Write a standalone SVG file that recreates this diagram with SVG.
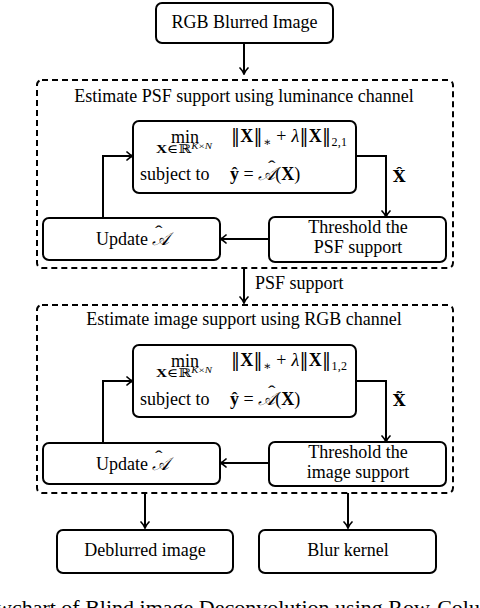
<svg xmlns="http://www.w3.org/2000/svg" width="480" height="608" viewBox="0 0 480 608">
<style>
text{font-family:"Liberation Serif","DejaVu Serif",serif;font-size:18px;fill:#000}
text.f12{font-size:12px}
text.f16{font-size:16px}
text.f22{font-size:22px}
tspan.f8{font-size:8.5px}
tspan.sub{font-size:12px}
.dv{font-family:"DejaVu Serif",serif}
.box{fill:#fff;stroke:#000;stroke-width:2}
.dash{fill:none;stroke:#000;stroke-width:2;stroke-dasharray:6 4}
.c{text-anchor:middle}
.ln{fill:none;stroke:#000;stroke-width:2}
.b{font-weight:bold}
.i{font-style:italic}
.scr{font-family:"DejaVu Serif","Noto Sans",serif;font-style:italic}
</style>
<defs>
<marker id="ah" viewBox="0 0 10 10" refX="9" refY="5" markerWidth="10" markerHeight="10" markerUnits="userSpaceOnUse" orient="auto">
<path d="M3,1 Q6,4 9,5 Q6,6 3,9" fill="none" stroke="#000" stroke-width="1.7" stroke-linecap="round"/>
</marker>
</defs>
<rect width="480" height="608" fill="#fff"/>

<g id="connectors">
<line class="ln" x1="244" y1="43" x2="244" y2="74" marker-end="url(#ah)"/>
<polyline class="ln" points="103,218 103,156 133,156" marker-end="url(#ah)"/>
<polyline class="ln" points="356,156 386,156 386,217" marker-end="url(#ah)"/>
<line class="ln" x1="269" y1="239" x2="220" y2="239" marker-end="url(#ah)"/>
<line class="ln" x1="244" y1="268" x2="244" y2="303" marker-end="url(#ah)"/>
<polyline class="ln" points="103,443 103,381 133,381" marker-end="url(#ah)"/>
<polyline class="ln" points="356,381 386,381 386,442" marker-end="url(#ah)"/>
<line class="ln" x1="269" y1="463" x2="220" y2="463" marker-end="url(#ah)"/>
<line class="ln" x1="145" y1="493" x2="145" y2="528" marker-end="url(#ah)"/>
<line class="ln" x1="348" y1="493" x2="348" y2="528" marker-end="url(#ah)"/>
<text x="255" y="289">PSF support</text>
<text class="b dv f16" x="393" y="182">X̂</text>
<text class="b dv f16" x="393" y="406">X̃</text>
</g>

<g id="rgb-blurred-image">
<rect class="box" x="156" y="3" width="177" height="40" rx="6"/>
<text class="c" x="244.5" y="28">RGB Blurred Image</text>
</g>

<g id="stage-psf">
<rect class="dash" x="37" y="80" width="416" height="188" rx="5"/>
<text class="c" x="244" y="102">Estimate PSF support using luminance channel</text>
</g>

<g id="opt-psf">
<rect class="box" x="133" y="121" width="223" height="72" rx="6"/>
<text class="c" x="185" y="143">min</text>
<text class="f12" x="156" y="153" textLength="56" lengthAdjust="spacingAndGlyphs"><tspan class="b">X</tspan>∈ℝ<tspan class="f8 i" dy="-4">K</tspan><tspan class="f8">×</tspan><tspan class="f8 i">N</tspan></text>
<text x="231" y="142" textLength="116" lengthAdjust="spacing"><tspan class="dv">‖</tspan><tspan class="b">X</tspan><tspan class="dv">‖</tspan><tspan class="sub" dy="4">∗</tspan><tspan dy="-4"> + </tspan><tspan class="i">λ</tspan><tspan class="dv">‖</tspan><tspan class="b">X</tspan><tspan class="dv">‖</tspan><tspan class="sub" dy="4">2,1</tspan></text>
<text x="140" y="180">subject to</text>
<text x="230" y="180"><tspan class="b">ŷ</tspan> = <tspan class="scr">𝒜</tspan>(<tspan class="b">X</tspan>)</text>
<text class="f16" x="268" y="172" transform="translate(268 0) scale(1.4 1) translate(-268 0)">ˆ</text>
</g>

<g id="update-psf">
<rect class="box" x="43" y="218" width="177" height="42" rx="6"/>
<text x="96" y="245">Update <tspan class="scr">𝒜</tspan></text>
<text class="f16" x="155" y="237" transform="translate(155 0) scale(1.4 1) translate(-155 0)">ˆ</text>
</g>

<g id="threshold-psf">
<rect class="box" x="269" y="217" width="177" height="45" rx="6"/>
<text class="c" x="358" y="233">Threshold the</text>
<text class="c" x="358" y="253">PSF support</text>
</g>

<g id="stage-image">
<rect class="dash" x="37" y="305" width="416" height="188" rx="5"/>
<text class="c" x="244" y="325">Estimate image support using RGB channel</text>
</g>

<g id="opt-image">
<rect class="box" x="133" y="345" width="223" height="72" rx="6"/>
<text class="c" x="185" y="367">min</text>
<text class="f12" x="156" y="377" textLength="56" lengthAdjust="spacingAndGlyphs"><tspan class="b">X</tspan>∈ℝ<tspan class="f8 i" dy="-4">K</tspan><tspan class="f8">×</tspan><tspan class="f8 i">N</tspan></text>
<text x="231" y="366" textLength="116" lengthAdjust="spacing"><tspan class="dv">‖</tspan><tspan class="b">X</tspan><tspan class="dv">‖</tspan><tspan class="sub" dy="4">∗</tspan><tspan dy="-4"> + </tspan><tspan class="i">λ</tspan><tspan class="dv">‖</tspan><tspan class="b">X</tspan><tspan class="dv">‖</tspan><tspan class="sub" dy="4">1,2</tspan></text>
<text x="140" y="405">subject to</text>
<text x="230" y="405"><tspan class="b">ŷ</tspan> = <tspan class="scr">𝒜</tspan>(<tspan class="b">X</tspan>)</text>
<text class="f16" x="268" y="397" transform="translate(268 0) scale(1.4 1) translate(-268 0)">ˆ</text>
</g>

<g id="update-image">
<rect class="box" x="43" y="443" width="177" height="41" rx="6"/>
<text x="96" y="470">Update <tspan class="scr">𝒜</tspan></text>
<text class="f16" x="155" y="462" transform="translate(155 0) scale(1.4 1) translate(-155 0)">ˆ</text>
</g>

<g id="threshold-image">
<rect class="box" x="269" y="442" width="177" height="44" rx="6"/>
<text class="c" x="358" y="458">Threshold the</text>
<text class="c" x="358" y="478">image support</text>
</g>

<g id="deblurred-image">
<rect class="box" x="57" y="530" width="176" height="43" rx="6"/>
<text class="c" x="145" y="556">Deblurred image</text>
</g>

<g id="blur-kernel">
<rect class="box" x="259" y="530" width="177" height="43" rx="6"/>
<text class="c" x="348" y="556">Blur kernel</text>
</g>

<text id="caption" class="f22" x="-4" y="615">wchart of Blind image Deconvolution using Row-Colu</text>
</svg>
